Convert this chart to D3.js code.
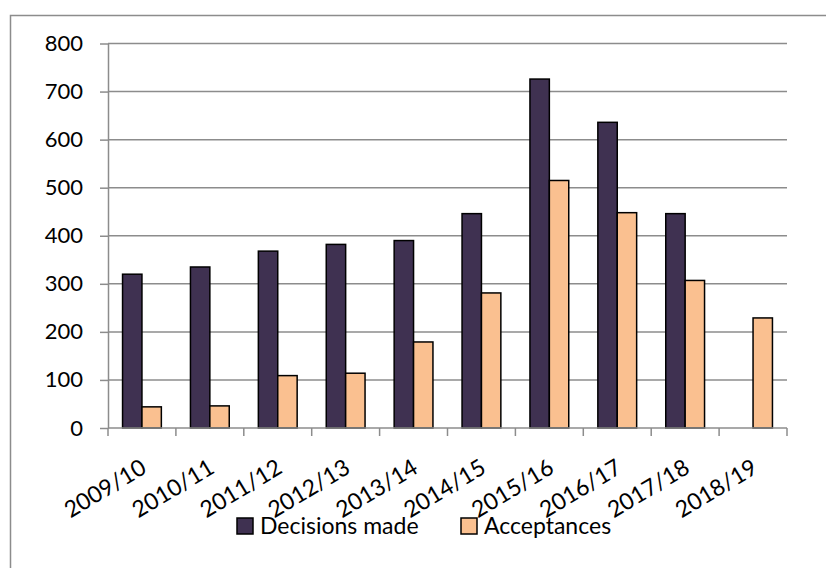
<!DOCTYPE html>
<html>
<head>
<meta charset="utf-8">
<script src="https://cdn.jsdelivr.net/npm/d3@7"></script>
<style>
  body { margin: 0; background: #fff; }
  text { font-family: Lato, "Open Sans", sans-serif; fill: #000; }
</style>
</head>
<body>
<div id="chart"></div>
<script>
var years = ["2009/10", "2010/11", "2011/12", "2012/13", "2013/14",
             "2014/15", "2015/16", "2016/17", "2017/18", "2018/19"];
var decisions = [320, 335, 368, 382, 390, 446, 726, 636, 446, null];
var acceptances = [44, 46, 109, 114, 179, 281, 515, 448, 307, 229];
var seriesNames = ["Decisions made", "Acceptances"];
var seriesColors = ["#3f3151", "#fac090"];
var yTicks = [0, 100, 200, 300, 400, 500, 600, 700, 800];

var width = 826,
    height = 568;

var svg = d3.select("#chart").append("svg")
    .attr("width", width)
    .attr("height", height);

// outer chart frame (only left/top visible in the crop)
svg.append("rect")
    .attr("x", 10.5).attr("y", 15.5)
    .attr("width", 830).attr("height", 580)
    .attr("fill", "none")
    .attr("stroke", "#8c8c8c")
    .attr("stroke-width", 1.5);

var plotLeft = 108, plotRight = 787, plotTop = 43.5, plotBottom = 428;

var x = d3.scaleBand().domain(years).range([plotLeft, plotRight]);
var x1 = d3.scaleBand().domain(seriesNames)
    .range([0, x.bandwidth()])
    .paddingOuter(0.75);
var y = d3.scaleLinear().domain([0, 800]).range([plotBottom, plotTop]);

// gridlines
svg.append("g").selectAll("line")
    .data(yTicks.filter(function(d) { return d > 0; }))
    .enter().append("line")
    .attr("x1", plotLeft).attr("x2", plotRight)
    .attr("y1", function(d) { return y(d); })
    .attr("y2", function(d) { return y(d); })
    .attr("stroke", "#8c8c8c")
    .attr("stroke-width", 1.5);

// y axis
var yAxis = svg.append("g")
    .attr("transform", "translate(" + plotLeft + ",0)")
    .call(d3.axisLeft(y).tickValues(yTicks).tickSize(8).tickPadding(17).tickSizeOuter(0));
yAxis.select(".domain").attr("stroke", "#8c8c8c").attr("stroke-width", 1.5);
yAxis.selectAll(".tick line").attr("stroke", "#8c8c8c").attr("stroke-width", 1.5);
yAxis.selectAll(".tick text")
    .style("font-size", "22px")
    .style("font-family", "Lato, sans-serif")
    .attr("fill", "#000");

// bars
var rows = years.map(function(yr, i) {
  return { year: yr, values: [decisions[i], acceptances[i]] };
});

var group = svg.append("g").selectAll("g")
    .data(rows)
    .enter().append("g")
    .attr("transform", function(d) { return "translate(" + x(d.year) + ",0)"; });

group.selectAll("rect")
    .data(function(d) {
      return d.values.map(function(v, j) { return { key: seriesNames[j], value: v, j: j }; })
        .filter(function(e) { return e.value != null; });
    })
    .enter().append("rect")
    .attr("x", function(d) { return x1(d.key); })
    .attr("y", function(d) { return y(d.value); })
    .attr("width", x1.bandwidth())
    .attr("height", function(d) { return y(0) - y(d.value); })
    .attr("fill", function(d) { return seriesColors[d.j]; })
    .attr("stroke", "#000")
    .attr("stroke-width", 1.5);

// x axis line and ticks between categories
svg.append("line")
    .attr("x1", plotLeft).attr("x2", plotRight)
    .attr("y1", plotBottom).attr("y2", plotBottom)
    .attr("stroke", "#8c8c8c").attr("stroke-width", 1.5);

var edges = years.map(function(d) { return x(d); }).concat([plotRight]);
svg.append("g").selectAll("line")
    .data(edges)
    .enter().append("line")
    .attr("x1", function(d) { return d; }).attr("x2", function(d) { return d; })
    .attr("y1", plotBottom).attr("y2", plotBottom + 8)
    .attr("stroke", "#8c8c8c").attr("stroke-width", 1.5);

svg.append("g").selectAll("text")
    .data(years)
    .enter().append("text")
    .attr("transform", function(d) {
      return "translate(" + (x(d) + x.bandwidth() / 2 + 6) + "," + 472 + ") rotate(-31)";
    })
    .attr("text-anchor", "end")
    .style("font-size", "23px")
    .text(function(d) { return d; });

// legend
var legendX = [237, 461];
var legend = svg.append("g").selectAll("g")
    .data(seriesNames)
    .enter().append("g")
    .attr("transform", function(d, i) { return "translate(" + legendX[i] + ",518)"; });

legend.append("rect")
    .attr("width", 16).attr("height", 16)
    .attr("fill", function(d, i) { return seriesColors[i]; })
    .attr("stroke", "#000").attr("stroke-width", 1.5);

legend.append("text")
    .attr("x", 23).attr("y", 8)
    .attr("dy", "0.36em")
    .style("font-size", "23px")
    .text(function(d) { return d; });
</script>
</body>
</html>
